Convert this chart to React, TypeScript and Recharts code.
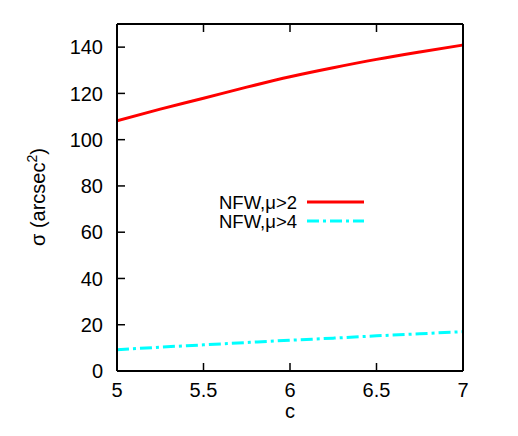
import React from 'react';
import { LineChart, Line, XAxis, YAxis } from 'recharts';

const cValues = [5, 5.25, 5.5, 5.75, 6, 6.25, 6.5, 6.75, 7];
const sigmaMu2 = [108.2, 113.2, 117.9, 122.7, 127.2, 131.1, 134.7, 137.9, 140.9];
const sigmaMu4 = [9.2, 10.3, 11.3, 12.3, 13.3, 14.2, 15.2, 16.1, 17];
const xTicks = [5, 5.5, 6, 6.5, 7];
const yTicks = [0, 20, 40, 60, 80, 100, 120, 140];

const data = cValues.map((c, i) => ({ c, mu2: sigmaMu2[i], mu4: sigmaMu4[i] }));

const FONT = '"Liberation Sans", Arial, sans-serif';
const tickStyle = { fill: '#000', fontSize: 20, fontFamily: FONT };
const axisLine = { stroke: '#000', strokeWidth: 2 };
const tickLine = { stroke: '#000', strokeWidth: 1.5 };
const blank = () => '';

export default function App() {
  return (
    <div style={{ position: 'absolute', left: 0, top: 0, width: 518, height: 436, background: '#fff' }}>
      <LineChart width={518} height={436} data={data} margin={{ top: 23, right: 54, bottom: 0, left: 0 }}>
        <XAxis
          dataKey="c"
          type="number"
          domain={[5, 7]}
          ticks={xTicks}
          tickSize={-8}
          tickMargin={20}
          height={65}
          tick={tickStyle}
          axisLine={axisLine}
          tickLine={tickLine}
          allowDataOverflow
        />
        <XAxis
          xAxisId="top"
          orientation="top"
          dataKey="c"
          type="number"
          domain={[5, 7]}
          ticks={xTicks}
          tickSize={-8}
          height={1}
          tickFormatter={blank}
          axisLine={axisLine}
          tickLine={tickLine}
        />
        <YAxis
          type="number"
          domain={[0, 150]}
          ticks={yTicks}
          width={117}
          tickSize={-8}
          tickMargin={22}
          tick={tickStyle}
          axisLine={axisLine}
          tickLine={tickLine}
          allowDataOverflow
        />
        <YAxis
          yAxisId="r"
          orientation="right"
          type="number"
          domain={[0, 150]}
          ticks={yTicks}
          width={1}
          tickSize={-8}
          tickFormatter={blank}
          axisLine={axisLine}
          tickLine={tickLine}
        />
        <Line dataKey="mu2" type="monotone" stroke="#ff0000" strokeWidth={3} dot={false} isAnimationActive={false} />
        <Line
          dataKey="mu4"
          type="monotone"
          stroke="#00ffff"
          strokeWidth={3}
          strokeDasharray="12 4 3 4"
          dot={false}
          isAnimationActive={false}
        />
      </LineChart>
      <svg
        width={518}
        height={436}
        style={{ position: 'absolute', left: 0, top: 0, pointerEvents: 'none' }}
        fontFamily={FONT}
        fontSize={20}
      >
        <g fontSize={18.5}>
          <text x={297} y={209} textAnchor="end" fill="#000">NFW,μ&gt;2</text>
          <text x={297} y={228} textAnchor="end" fill="#000">NFW,μ&gt;4</text>
        </g>
        <line x1={307} x2={364} y1={202} y2={202} stroke="#ff0000" strokeWidth={3} />
        <line x1={307} x2={364} y1={221} y2={221} stroke="#00ffff" strokeWidth={3} strokeDasharray="12 4 3 4" />
        <text x={290} y={418} textAnchor="middle" fill="#000">c</text>
        <text x={45} y={197} textAnchor="middle" fill="#000" transform="rotate(-90 45 197)">
          σ (arcsec<tspan dy={-8} fontSize={14}>2</tspan><tspan dy={8}>)</tspan>
        </text>
      </svg>
    </div>
  );
}
